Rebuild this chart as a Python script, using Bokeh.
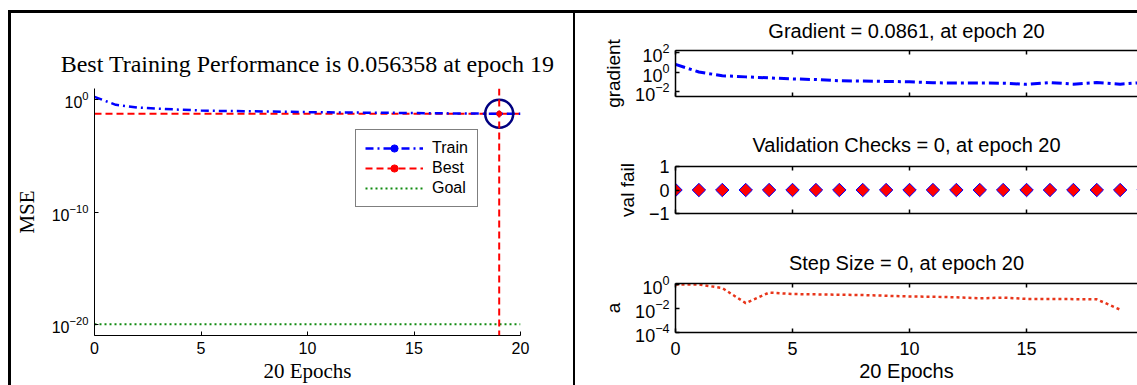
import math
from bokeh.plotting import figure
from bokeh.layouts import row, column
from bokeh.models import (Span, Legend, LegendItem, FixedTicker, LinearAxis, Range1d,
                          CustomLabelingPolicy, Spacer)
from bokeh.embed import file_html
from bokeh.resources import INLINE

# ---------------- data ----------------
epochs = list(range(21))
train_mse = [1.8, 0.35, 0.2, 0.16, 0.13, 0.11, 0.1, 0.095, 0.09, 0.085, 0.078,
             0.075, 0.072, 0.07, 0.068, 0.065, 0.062, 0.06, 0.058, 0.056358, 0.0566]
best_epoch = 19
best_perf = 0.056358
goal_mse = 1e-20
best_line = [best_perf] * len(epochs)
goal_line = [goal_mse] * len(epochs)

gradient = [6.0, 1.0, 0.42, 0.32, 0.25, 0.2, 0.17, 0.13, 0.12, 0.11, 0.1,
            0.08, 0.075, 0.075, 0.072, 0.055, 0.085, 0.058, 0.085, 0.058, 0.0861]
val_fail = [0] * 21
step_epochs = list(range(20))
step_size = [1.0, 1.0, 0.5, 0.028, 0.21, 0.16, 0.15, 0.14, 0.13, 0.115, 0.1,
             0.095, 0.085, 0.07, 0.08, 0.063, 0.062, 0.06, 0.058, 0.008]

x_ticks = [0, 5, 10, 15, 20]
mse_ticks = [1e-20, 1e-10, 1.0]
grad_ticks = [1e-2, 1.0, 1e2]
val_ticks = [-1, 0, 1]
step_ticks = [1e-4, 1e-2, 1.0]

SANS = "Liberation Sans"
SERIF = "Liberation Serif"


def style_axis(ax, size, lw=1.0):
    ax.major_tick_in = 4
    ax.major_tick_out = 0
    ax.minor_tick_in = 0
    ax.minor_tick_out = 0
    ax.axis_line_color = "black"
    ax.axis_line_width = lw
    ax.major_tick_line_color = "black"
    ax.major_tick_line_width = lw
    ax.major_label_text_font = SANS
    ax.major_label_text_font_size = size
    ax.major_label_text_color = "black"
    ax.axis_label_text_font_style = "normal"
    ax.axis_label_text_color = "black"


def hide_labels(ax):
    ax.major_label_text_font_size = "1px"
    ax.major_label_standoff = 0
    ax.major_label_policy = CustomLabelingPolicy(code="return new Set()")


# ---------------- left: performance ----------------
p = figure(width=562, height=372, x_range=Range1d(0, 20),
           y_range=Range1d(1e-21, 1e1), y_axis_type="log",
           output_backend="svg", toolbar_location=None,
           min_border_left=83, min_border_right=53,
           min_border_top=75, min_border_bottom=50,
           title="Best Training Performance is 0.056358 at epoch 19")
p.outline_line_color = None
p.xgrid.visible = False
p.ygrid.visible = False
p.title.text_font = SERIF
p.title.text_font_size = "24px"
p.title.text_font_style = "normal"
p.title.text_color = "black"
p.title.align = "center"
p.title.standoff = 23

style_axis(p.xaxis[0], "16px")
style_axis(p.yaxis[0], "16px")
p.xaxis.ticker = FixedTicker(ticks=x_ticks)
p.yaxis.ticker = FixedTicker(ticks=mse_ticks)
p.xaxis.axis_label = "20 Epochs"
p.yaxis.axis_label = "MSE"
p.xaxis.axis_label_text_font = SERIF
p.yaxis.axis_label_text_font = SERIF
p.xaxis.axis_label_text_font_size = "21px"
p.yaxis.axis_label_text_font_size = "21px"
p.xaxis.major_label_standoff = 6
p.yaxis.major_label_standoff = 6
p.xaxis.axis_label_standoff = 2
p.yaxis.axis_label_standoff = 10

r_goal = p.line(epochs, goal_line, line_color="#108a10", line_width=2, line_dash="2 3")
r_best = p.line(epochs, best_line, line_color="#ff0000", line_width=2, line_dash="7 4")
r_train = p.line(epochs, train_mse, line_color="#0000ff", line_width=2.5, line_dash="8 4 2 4")
p.add_layout(Span(location=best_epoch, dimension="height", line_color="#ff0000",
                  line_width=2, line_dash="7 4"))
r_train_mk = p.scatter([best_epoch], [train_mse[best_epoch]], marker="circle", size=5,
                       color="#0000ff")
r_best_mk = p.scatter([best_epoch], [best_perf], marker="circle", size=5, color="#ff0000")
p.scatter([best_epoch], [best_perf], marker="circle", size=28, fill_color=None,
          line_color="#000080", line_width=2.5)

legend = Legend(items=[LegendItem(label="Train", renderers=[r_train, r_train_mk]),
                       LegendItem(label="Best", renderers=[r_best, r_best_mk]),
                       LegendItem(label="Goal", renderers=[r_goal])],
                location=(261, 128))
legend.label_text_font = SANS
legend.label_text_font_size = "16px"
legend.label_text_color = "black"
legend.glyph_width = 58
legend.glyph_height = 18
legend.spacing = 2
legend.padding = 9
legend.label_standoff = 9
legend.border_line_color = "black"
legend.border_line_width = 1
legend.background_fill_color = "white"
legend.background_fill_alpha = 1
p.add_layout(legend)


# ---------------- right: training state ----------------
def sub(h, top, bottom, title, ylabel, ytype, yrange, yticks, show_x, standoff):
    f = figure(width=562, height=h, x_range=Range1d(0, 19.74), y_range=yrange,
               y_axis_type=ytype, output_backend="svg", toolbar_location=None,
               min_border_left=100, min_border_right=0,
               min_border_top=top, min_border_bottom=bottom, title=title)
    f.outline_line_color = None
    f.xgrid.visible = False
    f.ygrid.visible = False
    f.title.text_font = SANS
    f.title.text_font_size = "20px"
    f.title.text_font_style = "normal"
    f.title.text_color = "black"
    f.title.align = "center"
    f.title.standoff = standoff
    style_axis(f.xaxis[0], "18px", 1.5)
    style_axis(f.yaxis[0], "18px", 1.5)
    f.xaxis.ticker = FixedTicker(ticks=x_ticks)
    f.yaxis.ticker = FixedTicker(ticks=yticks)
    f.yaxis.axis_label = ylabel
    f.yaxis.axis_label_text_font = SANS
    f.yaxis.axis_label_text_font_size = "19px"
    f.yaxis.major_label_standoff = 6
    f.yaxis.axis_label_standoff = 8
    if show_x:
        f.xaxis.axis_label = "20 Epochs"
        f.xaxis.axis_label_text_font = SANS
        f.xaxis.axis_label_text_font_size = "20px"
        f.xaxis.major_label_standoff = 9
        f.xaxis.axis_label_standoff = 2
    else:
        hide_labels(f.xaxis[0])
    top_ax = LinearAxis(ticker=FixedTicker(ticks=x_ticks))
    style_axis(top_ax, "1px", 1.5)
    hide_labels(top_ax)
    f.add_layout(top_ax, "above")
    return f


g = sub(112, 34, 29, "Gradient = 0.0861, at epoch 20", "gradient", "log",
        Range1d(10 ** -2.5, 10 ** 2.2), grad_ticks, False, 9)
g.line(epochs, gradient, line_color="#0000ff", line_width=3, line_dash="10 4 3 4")

v = sub(118, 39, 30, "Validation Checks = 0, at epoch 20", "val fail", "linear",
        Range1d(-1, 1), val_ticks, False, 13)
v.scatter(epochs, val_fail, marker="square", angle=math.pi / 4, size=9.5,
          fill_color="#ff0000", line_color="#0000ff", line_width=1)

s = sub(142, 39, 53, "Step Size = 0, at epoch 20", "a", "log",
        Range1d(1e-4, 10 ** 0.08), step_ticks, True, 12)
s.line(step_epochs, step_size, line_color="#e8351a", line_width=2.5, line_dash="3 3")

# frame lines of the figure window
BAR = {"background-color": "black"}
top_bar = Spacer(width=1129, height=3, styles=BAR)
left_bar = Spacer(width=3, height=372, styles=BAR)
mid_bar = Spacer(width=2, height=372, styles=BAR)

layout = column(top_bar,
                row(left_bar, p, mid_bar, column(g, v, s, spacing=0), spacing=0),
                spacing=0, margin=(10, 0, 0, 8))

open("out.html", "w").write(file_html(layout, INLINE))
